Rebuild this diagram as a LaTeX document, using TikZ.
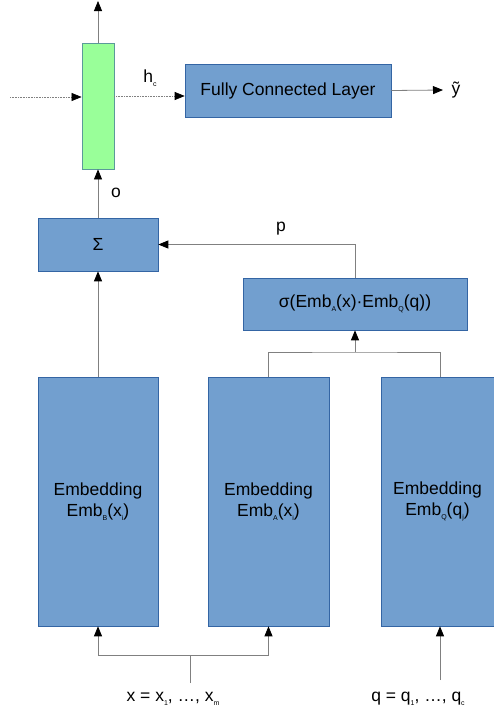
\documentclass[tikz,border=0pt]{standalone}
\usepackage{fontspec}
\setmainfont{Liberation Sans}
\usetikzlibrary{arrows.meta}
\definecolor{boxblue}{HTML}{729FCF}
\definecolor{boxedge}{HTML}{3465A4}
\definecolor{cellgreen}{HTML}{99FF99}
\definecolor{celledge}{HTML}{5B9A9A}
\definecolor{wire}{HTML}{808080}
\newcommand\lsub[1]{\raisebox{-0.45ex}{\fontsize{7}{7}\selectfont #1}}
\tikzset{
  block/.style={rectangle, draw=boxedge, fill=boxblue, line width=0.6pt,
    inner sep=0pt, align=center, font=\fontsize{17.5}{21}\selectfont},
  cell/.style={rectangle, draw=celledge, fill=cellgreen, line width=0.8pt, inner sep=0pt},
  wireline/.style={draw=wire, line width=0.8pt},
  flow/.style={wireline, -{Triangle[length=10pt, width=8pt, black]}},
  dotflow/.style={draw=wire, line width=0.6pt, densely dotted, -{Triangle[length=10pt, width=8pt, black]}},
  lbl/.style={inner sep=0pt, font=\fontsize{17.5}{21}\selectfont}
}
\begin{document}
\begin{tikzpicture}[x=1pt, y=-1pt]
  \useasboundingbox (0,0) rectangle (494,715);

  % recurrent cell and output layer
  \node[cell, minimum width=32pt, minimum height=126pt] (cellbox) at (98,106) {};
  \node[block, minimum width=206pt, minimum height=53pt] (fc) at (288,90.5) {Fully Connected Layer};

  % attention sum and weighting
  \node[block, minimum width=120pt, minimum height=53pt] (sum) at (98,244.5) {Σ};
  \node[block, minimum width=224pt, minimum height=52pt] (sig) at (355,304)
    {σ(Emb\lsub{A}(x)·Emb\lsub{Q}(q))};

  % embeddings
  \node[block, minimum width=120pt, minimum height=249pt] (embB) at (98,501.5)
    {Embedding\\Emb\lsub{B}(x\lsub{i})};
  \node[block, minimum width=121pt, minimum height=249pt] (embA) at (268.5,501.5)
    {Embedding\\Emb\lsub{A}(x\lsub{i})};
  \node[block, minimum width=118pt, minimum height=249pt] (embQ) at (440,501.5)
    {\hspace*{-5pt}Embedding\\\hspace*{-5pt}Emb\lsub{Q}(q\lsub{j})};

  % free ends and junctions
  \coordinate (topout) at (98,1);
  \coordinate (prevh) at (10,97);
  \coordinate (hrow) at (0,96);
  \coordinate (yout) at (443,90);
  \coordinate (jq) at (355,352);
  \coordinate (jx) at (190,655);
  \coordinate (xin) at (190,683);
  \coordinate (qin) at (440,680);

  % connectors
  \draw[flow] (cellbox.north) -- (topout);
  \draw[dotflow] (prevh) -- (prevh -| cellbox.west);
  \draw[dotflow] (cellbox.east |- hrow) -- (fc.west |- hrow);
  \draw[flow] (fc.east) -- (yout);
  \draw[flow] (sum.north) -- (cellbox.south);
  \draw[flow] (sig.north) |- (sum.east);
  \draw[flow] (embB.north) -- (sum.south);
  \draw[wireline] (embA.north) |- (jq) -| (embQ.north);
  \draw[flow] (jq) -- (sig.south);
  \draw[wireline] (xin) -- (jx);
  \draw[flow] (jx) -| (embB.south);
  \draw[flow] (jx) -| (embA.south);
  \draw[flow] (qin) -- (embQ.south);

  % labels
  \node[lbl] (lh) at (150,78) {h\lsub{c}};
  \node[lbl] (ly) at (456,90) {ỹ};
  \node[lbl] (lo) at (116,193) {o};
  \node[lbl] (lp) at (281,229) {p};
  \node[lbl] (lx) at (173,699) {x = x\lsub{1}, …, x\lsub{m}};
  \node[lbl] (lq) at (418,699) {q = q\lsub{1}, …, q\lsub{c}};
\end{tikzpicture}
\end{document}
